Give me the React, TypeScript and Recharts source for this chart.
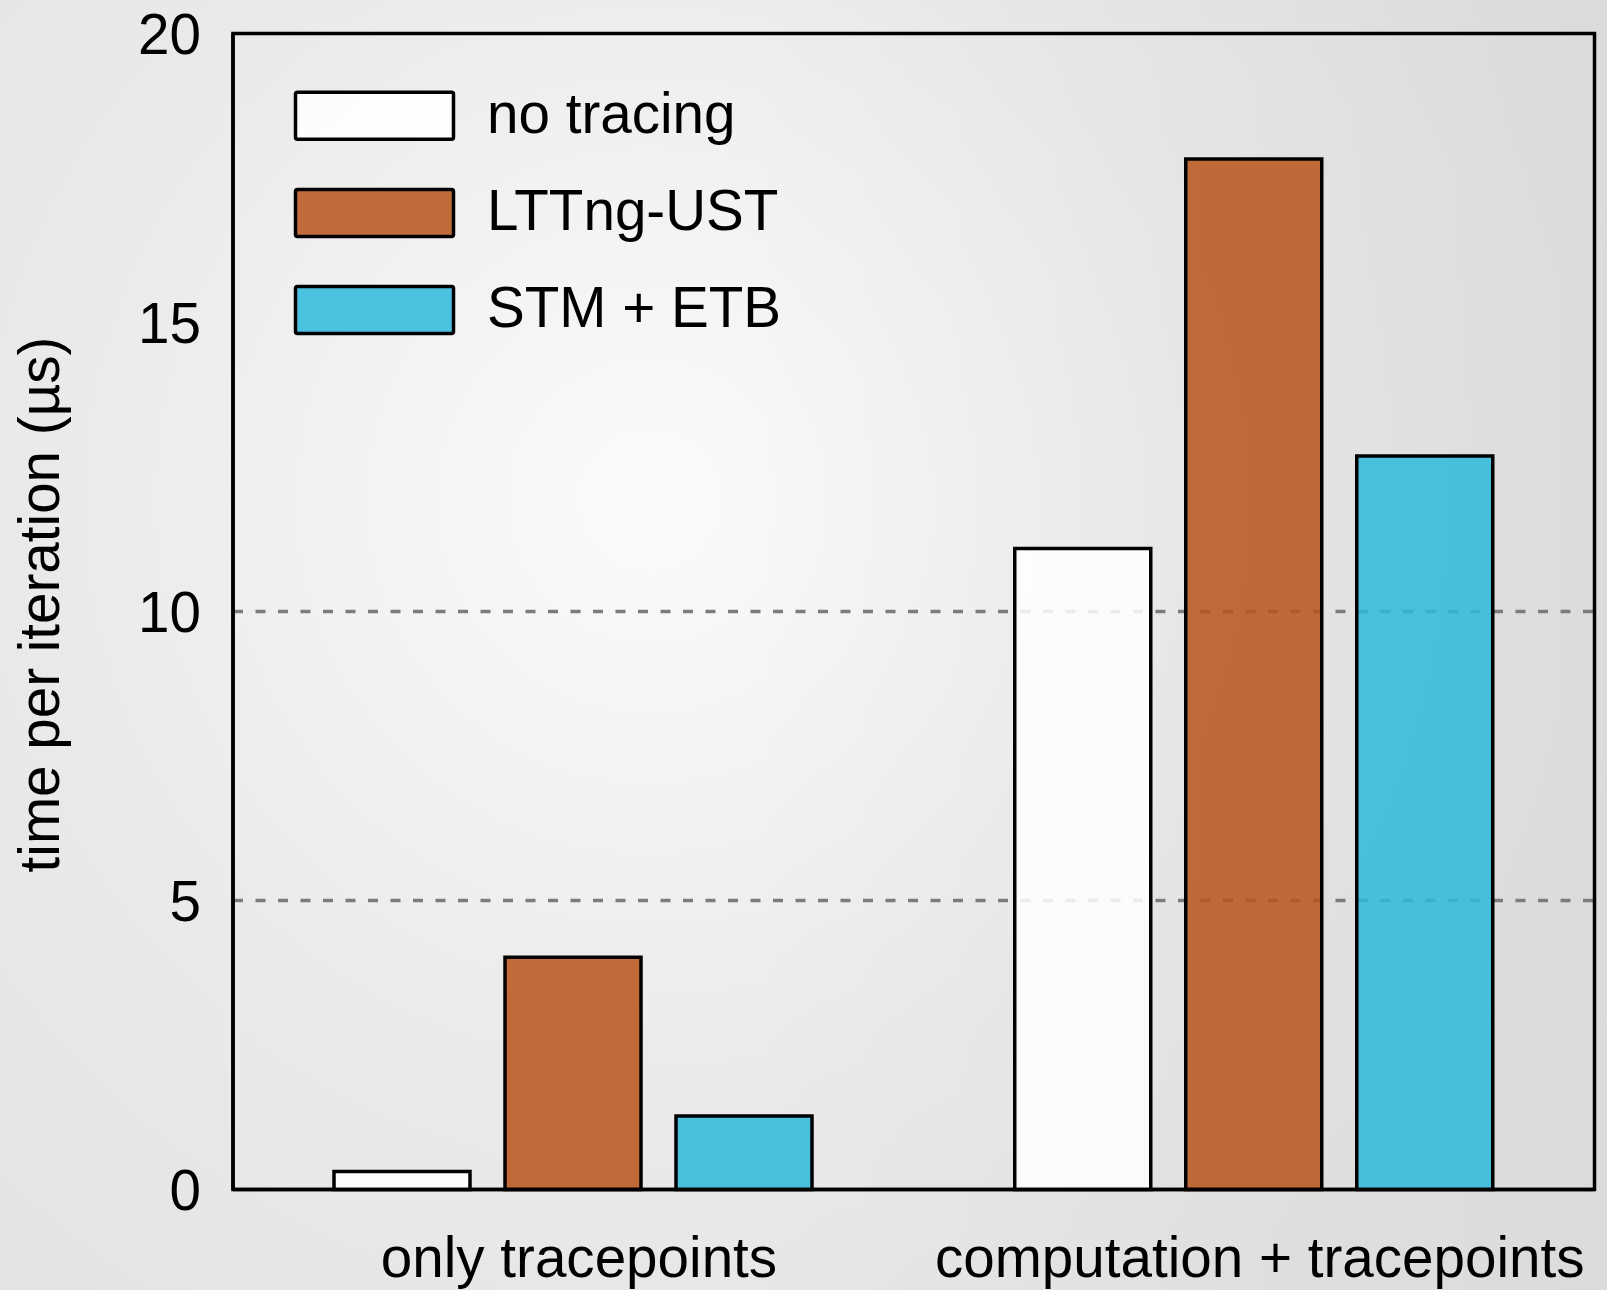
import React from 'react';
import { BarChart, Bar, XAxis, YAxis, CartesianGrid, Legend, ReferenceArea } from 'recharts';

const categories = ['only tracepoints', 'computation + tracepoints'];
const noTracing = [0.31, 11.09];
const lttngUst = [4.02, 17.83];
const stmEtb = [1.27, 12.69];
const yTicks = [0, 5, 10, 15, 20];
const gridValues = [5, 10];
const seriesNames = ['no tracing', 'LTTng-UST', 'STM + ETB'];
const seriesColors = ['#ffffff', '#b9541a', '#2cb9dc'];

const data = categories.map((c, i) => ({
  name: c,
  a: noTracing[i],
  b: lttngUst[i],
  c: stmEtb[i],
}));

const FONT = '"Liberation Sans", Arial, sans-serif';
const FS = 56.6;

const LegendContent = (props: any) => {
  const payload = [...(props.payload || [])].sort(
    (p: any, q: any) => seriesNames.indexOf(p.value) - seriesNames.indexOf(q.value)
  );
  return (
    <svg width={520} height={270} style={{ display: 'block' }}>
      {payload.map((p: any, i: number) => (
        <g key={i}>
          <rect
            x={15.5}
            y={12.2 + i * 97.2}
            width={158}
            height={47}
            rx={2}
            fill={p.color}
            fillOpacity={0.85}
            stroke="#000"
            strokeWidth={3.5}
          />
          <text x={207} y={52.7 + i * 97.2} fontFamily={FONT} fontSize={FS} fill="#000">
            {p.value}
          </text>
        </g>
      ))}
    </svg>
  );
};

const YLabel = (props: any) => {
  const vb = props.viewBox || { x: 0, y: 0, width: 0, height: 0 };
  const x = vb.x + 59;
  const y = vb.y + vb.height / 2 - 7;
  return (
    <text
      x={x}
      y={y}
      transform={`rotate(-90, ${x}, ${y})`}
      textAnchor="middle"
      fontFamily={FONT}
      fontSize={FS}
      fill="#000"
    >
      time per iteration (µs)
    </text>
  );
};

export default function App() {
  return (
    <div
      style={{
        position: 'absolute',
        top: 0,
        left: 0,
        width: 1607,
        height: 1290,
        background:
          'linear-gradient(to right, rgba(0,0,0,0) 45%, rgba(0,0,0,0.04) 100%), radial-gradient(circle at 650px 500px, #fbfbfb 0px, #eaeaea 600px, #e4e4e4 1000px)',
        fontFamily: FONT,
      }}
    >
      <BarChart
        width={1607}
        height={1290}
        data={data}
        margin={{ top: 33.5, right: 12.5, bottom: 0, left: 0 }}
        barSize={136}
        barGap={35}
      >
        <CartesianGrid
          vertical={false}
          horizontalValues={gridValues}
          stroke="#7c7c7c"
          strokeWidth={3.5}
          strokeDasharray="10 12.5"
        />
        <XAxis
          dataKey="name"
          interval={0}
          height={100.5}
          tickLine={false}
          tickSize={0}
          tickMargin={47}
          axisLine={{ stroke: '#000', strokeWidth: 3.5 }}
          tick={{ fill: '#000', fontSize: FS, fontFamily: FONT, dx: 5.6 }}
        />
        <YAxis
          width={233}
          domain={[0, 20]}
          ticks={yTicks}
          interval={0}
          tickLine={false}
          tickSize={0}
          tickMargin={32}
          axisLine={{ stroke: '#000', strokeWidth: 3.5 }}
          tick={{ fill: '#000', fontSize: FS, fontFamily: FONT }}
          label={<YLabel />}
        />
        <Legend
          layout="vertical"
          verticalAlign="middle"
          align="center"
          wrapperStyle={{ left: 280, top: 80, width: 520, height: 270 }}
          content={<LegendContent />}
        />
        <Bar dataKey="a" name={seriesNames[0]} fill={seriesColors[0]} fillOpacity={0.85} stroke="#000" strokeWidth={3.5} isAnimationActive={false} />
        <Bar dataKey="b" name={seriesNames[1]} fill={seriesColors[1]} fillOpacity={0.85} stroke="#000" strokeWidth={3.5} isAnimationActive={false} />
        <Bar dataKey="c" name={seriesNames[2]} fill={seriesColors[2]} fillOpacity={0.85} stroke="#000" strokeWidth={3.5} isAnimationActive={false} />
        <ReferenceArea y1={0} y2={20} fill="none" stroke="#000" strokeWidth={3.5} ifOverflow="visible" />
      </BarChart>
    </div>
  );
}
